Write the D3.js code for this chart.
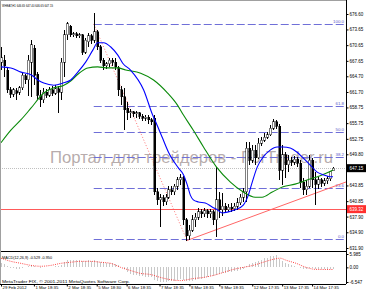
<!DOCTYPE html>
<html>
<head>
<meta charset="utf-8">
<script src="https://cdn.jsdelivr.net/npm/d3@7"></script>
<style>
  body { margin: 0; background: white; }
  svg { display: block; }
  text { font-family: "Liberation Sans", Arial, sans-serif; }
</style>
</head>
<body>
<div id="container"></div>
<script>
let w = 366;
let h = 293;

// hourly wheat bars: [open, high, low, close]
let candles = [
  [667.4,670.3,665.9,668.2],[667.8,668.8,664.6,666.7],[665.9,666.3,661.5,662.1],[662.1,662.7,660.6,661.3],
  [661.3,662.5,660.8,662.1],[661.9,662.5,660.2,661.5],[661.7,662.9,661.1,662.5],[662.5,665.5,662.1,664.9],
  [664.8,665.1,663.2,664.0],[664.0,668.8,660.9,667.8],[667.4,671.6,660.8,670.7],[670.1,670.7,663.0,664.9],
  [665.1,665.5,660.2,661.1],[661.1,662.1,658.8,660.2],[660.2,662.5,659.6,661.7],[661.7,662.3,660.6,661.1],
  [661.1,662.7,660.8,662.1],[662.1,662.9,660.9,661.5],[661.5,663.0,661.1,662.3],[662.3,662.9,657.7,661.7],
  [661.7,668.2,660.2,667.4],[667.4,673.5,664.6,672.6],[672.6,675.1,671.6,674.7],[674.3,674.5,672.2,672.6],
  [672.6,673.2,672.2,672.8],[672.8,673.2,672.0,672.4],[672.4,673.0,672.0,672.6],[672.6,672.8,668.8,669.3],
  [669.3,672.0,669.0,671.6],[671.3,673.0,670.3,672.4],[672.4,672.8,670.9,671.6],[671.6,676.8,671.1,673.2],
  [673.2,673.5,669.7,670.3],[670.3,670.7,667.2,667.8],[667.8,668.2,665.9,666.7],[666.7,667.4,666.1,667.1],
  [667.1,668.2,666.5,667.8],[667.8,668.2,666.7,667.4],[667.4,668.2,665.9,666.5],[666.3,666.7,660.9,662.1],
  [662.1,662.9,659.2,660.8],[660.8,662.5,654.4,658.3],[658.6,659.8,656.4,657.7],[657.7,658.5,656.7,657.9],
  [657.9,658.1,656.9,657.5],[657.5,658.1,656.7,657.7],[657.7,657.9,656.5,657.1],[657.1,657.5,656.2,656.7],
  [656.7,657.3,656.2,656.9],[656.9,657.3,655.6,656.4],[656.4,656.7,655.4,656.0],[656.7,657.3,642.0,642.6],
  [642.6,643.4,640.1,641.1],[641.1,642.2,635.9,641.5],[641.5,642.0,639.9,640.7],[640.7,642.2,640.1,641.6],
  [641.6,643.7,641.3,643.0],[643.0,643.7,642.0,642.6],[642.6,644.1,642.0,643.7],[643.7,645.5,643.0,644.9],
  [644.9,646.0,643.9,645.3],[645.3,645.7,636.3,637.3],[637.3,637.6,633.2,634.2],[634.2,636.3,633.4,635.3],
  [635.3,638.2,635.0,637.3],[637.3,638.6,635.9,637.8],[637.8,639.6,637.3,638.8],[638.8,639.4,637.6,638.4],
  [638.4,639.6,637.8,639.0],[639.0,639.4,637.6,638.4],[638.4,639.4,637.6,638.8],[638.8,639.2,636.3,637.3],
  [637.3,647.4,634.0,641.1],[641.1,642.6,637.6,639.2],[639.2,642.4,638.0,639.9],[639.9,640.5,638.6,639.2],
  [639.2,640.3,638.8,639.7],[639.7,640.5,638.8,639.4],[639.4,640.5,639.0,639.9],[639.9,641.5,639.2,640.5],
  [640.5,642.2,640.1,641.6],[641.6,643.4,640.7,642.6],[642.6,652.2,640.7,651.0],[651.0,652.2,647.8,648.7],
  [648.7,651.6,648.1,650.6],[650.6,651.6,647.8,649.1],[649.1,652.9,648.9,651.9],[651.9,653.1,651.4,652.5],
  [652.5,653.9,652.2,653.1],[653.1,654.1,652.7,653.5],[653.5,655.4,653.3,654.8],[654.8,656.5,654.4,656.0],
  [656.0,656.4,654.6,655.2],[655.2,655.6,644.9,646.8],[646.8,651.6,643.9,649.7],[649.7,650.2,645.3,647.8],
  [647.8,649.7,646.4,648.7],[648.7,649.3,647.6,648.3],[648.3,649.5,647.8,648.9],[648.9,649.3,647.4,648.1],
  [648.1,648.7,643.4,644.5],[644.5,645.3,642.0,643.0],[643.0,644.9,642.0,643.7],[643.7,649.7,643.4,648.7],
  [648.7,649.1,643.4,644.9],[644.9,646.4,640.1,644.1],[644.1,645.5,643.2,644.9],[644.9,645.3,643.6,644.3],
  [644.3,645.3,643.8,644.7],[644.7,645.7,644.1,645.1],[645.1,646.6,644.7,646.6],[646.65,647.40,646.65,647.15]
];

// moving averages, read at some bar positions
let blueIdx = [0,3.3,6.7,10,12.3,14.3,17.7,20.7,23.3,25.7,28.3,30.7,32.3,34.3,36.7,39,40.7,43.3,47.7,50.7,51.7,54,56,59.3,61,62.3,63.3,64.3,66,68.3,70.7,72.3,74,76,78.3,81,82.7,84,85.7,87.7,90,92.3,94.3,96.7,99,101,103.3,105.7,107.7,110,111];
let blueVal = [666.5,666.3,665.5,665.0,664.0,663.4,663.0,663.4,664.0,665.5,667.4,669.7,671.1,671.1,670.3,668.8,667.2,665.9,662.1,657.3,656.0,652.9,650.2,647.2,645.9,643.9,642.0,641.1,640.7,640.5,639.7,639.2,638.6,638.8,639.2,640.1,642.0,644.5,647.4,649.3,650.6,651.2,651.2,651.0,650.2,649.1,647.8,646.4,645.9,645.5,645.5];
let greenIdx = [0,3.3,6.7,10,14.3,17.7,20.7,23.3,25.7,29,32.3,35.7,39,41.7,46.7,51,55.7,59,61,64.3,67.7,72,76.7,81,85,87.3,90.7,94.3,98.3,102.3,106.7,111];
let greenVal = [652.0,654.4,656.4,658.6,661.5,662.5,662.9,663.8,665.1,666.3,666.5,666.3,666.3,665.9,665.3,664.0,661.5,659.2,657.3,654.4,651.2,647.4,644.5,642.6,641.6,641.6,642.6,643.6,644.1,644.9,645.7,646.8];

// MACD(12,26,9): main per bar, signal read at some bar positions
let macdMain = [
  2.0,1.5,0.5,-0.3,-0.5,-0.7,-0.6,-0.2,0.0,0.5,
  1.2,0.8,0.2,-0.2,0.0,0.1,0.3,0.3,0.5,0.5,
  1.2,2.3,3.2,3.4,3.5,3.4,3.3,3.0,3.0,3.1,
  3.0,3.2,2.9,2.5,2.2,2.0,1.9,1.8,1.6,0.9,
  0.2,-0.8,-2.0,-2.8,-3.2,-3.5,-3.8,-4.0,-4.1,-4.3,
  -4.4,-5.5,-6.3,-6.5,-6.5,-6.4,-6.3,-6.1,-5.9,-5.6,
  -5.3,-5.8,-6.2,-6.3,-6.0,-5.7,-5.3,-5.0,-4.6,-4.3,
  -4.0,-3.9,-3.3,-3.0,-2.7,-2.5,-2.2,-2.0,-1.7,-1.4,
  -1.0,-0.6,0.5,1.3,2.0,2.5,3.0,3.5,4.0,4.4,
  4.9,5.3,5.5,3.8,2.8,2.0,1.4,0.9,0.5,0.2,
  -0.4,-0.6,-0.7,-0.3,-0.5,-0.7,-0.7,-0.8,-0.8,-0.7,
  -0.6,-0.529
];
let sigIdx = [0,3.3,6.7,10,13.3,16.7,20,23.3,26.7,30,33.3,36.7,40,43.3,46.7,50,53.3,56.7,60,64.3,67.7,71,74.3,77.7,81,84.3,87.7,91,93.3,95.3,98.7,102,105.3,108.7,111];
let sigVal = [4.1,2.7,1.8,0.9,0.5,0.9,1.8,2.3,2.7,2.7,2.3,1.8,0,-1.4,-2.7,-3.2,-4.5,-5.5,-5.9,-5.0,-4.5,-3.6,-2.3,-0.9,0,0.9,2.3,3.6,4.1,3.2,1.8,0,-0.9,-0.95,-0.95];

// axis labels
let priceTicks = [676.60,673.65,670.65,667.65,664.70,661.70,658.75,655.75,652.75,649.80,643.85,640.85,637.90,634.90,631.90];
let macdTicks = [5.985, 0, -6.547];
let macdTickLabels = ["5.985","0.00","-6.547"];
let timeIdx = [0,11,22,32,42,53,63,73,84,94,104];
let timeLabels = ["29 Feb 2012","1 Mar 18:35","2 Mar 18:35","5 Mar 18:30","6 Mar 18:35","7 Mar 18:35",
                  "8 Mar 18:35","9 Mar 18:35","12 Mar 17:35","13 Mar 17:35","14 Mar 17:35"];

// objects on the chart
let fibLevels = [0, 23.6, 38.2, 50, 61.8, 100];
let fibLabels = ["0.0","23.6","38.2","50.0","61.8","100.0"];
let fibFrom = [31, 674.7];   // bar, price (100 %)
let fibTo = [62, 633.6];     // bar, price (0 %)
let trendFrom = [62, 633.3];
let trendTo = [111, 643.6];
let redLevel = 639.32;
let bid = 647.15;

let axisX = 346;
let mainBottom = 251;
let macdBottom = 284;

let viz = d3.select("#container")
  .append("svg")
    .attr("width", w)
    .attr("height", h)
    .style("background-color", "white");

let xScale = d3.scaleLinear().domain([0, 111]).range([1, 333]);
let yScale = d3.scaleLinear().domain([631.90, 676.60]).range([248, 14]);
let macdScale = d3.scaleLinear().domain([-6.547, 5.985]).range([282, 254]);
let rightIdx = xScale.invert(axisX);

viz.append("clipPath").attr("id", "mainclip")
  .append("rect").attr("x", 0).attr("y", 0).attr("width", axisX).attr("height", mainBottom);

let main = viz.append("g").attr("clip-path", "url(#mainclip)");

// watermark
main.append("text")
  .attr("x", 50).attr("y", 163)
  .attr("font-size", 16)
  .attr("textLength", 283)
  .attr("lengthAdjust", "spacingAndGlyphs")
  .attr("fill", "#a39696")
  .attr("fill-opacity", 0.8)
  .text("Портал для трейдеров - ForTrader.ru");

// bid line
main.append("line")
  .attr("x1", 0).attr("x2", axisX)
  .attr("y1", Math.round(yScale(bid)) + 0.5).attr("y2", Math.round(yScale(bid)) + 0.5)
  .attr("stroke", "#c0c0c0").attr("stroke-dasharray", "1,1");

// horizontal red level
main.append("line")
  .attr("x1", 0).attr("x2", axisX)
  .attr("y1", Math.round(yScale(redLevel)) + 0.5).attr("y2", Math.round(yScale(redLevel)) + 0.5)
  .attr("stroke", "#ff5a5a");

// fibo levels
let fibPrice = function(l){ return fibTo[1] + (fibFrom[1] - fibTo[1]) * l / 100; };
let fib = main.selectAll(".fib").data(fibLevels).enter().append("g").classed("fib", true);
fib.append("line")
  .attr("x1", xScale(fibFrom[0])).attr("x2", axisX)
  .attr("y1", function(d){ return Math.round(yScale(fibPrice(d))) + 0.5; })
  .attr("y2", function(d){ return Math.round(yScale(fibPrice(d))) + 0.5; })
  .attr("stroke", "#6f6fd8").attr("stroke-dasharray", "8,3");
fib.append("text")
  .attr("x", axisX - 2)
  .attr("y", function(d){ return Math.round(yScale(fibPrice(d))) - 1; })
  .attr("text-anchor", "end")
  .attr("font-size", 4.4)
  .attr("fill", "#5c5cc8")
  .text(function(d, i){ return fibLabels[i]; });

// fibo base line (dotted red)
main.append("line")
  .attr("x1", xScale(fibFrom[0])).attr("y1", yScale(fibFrom[1]))
  .attr("x2", xScale(fibTo[0])).attr("y2", yScale(fibTo[1]))
  .attr("stroke", "#ff5050").attr("stroke-width", 0.8).attr("stroke-dasharray", "1,2");

// trend line extended to the right edge
let slope = (trendTo[1] - trendFrom[1]) / (trendTo[0] - trendFrom[0]);
main.append("line")
  .attr("x1", xScale(trendFrom[0])).attr("y1", yScale(trendFrom[1]))
  .attr("x2", axisX).attr("y2", yScale(trendFrom[1] + slope * (rightIdx - trendFrom[0])))
  .attr("stroke", "#ff6666").attr("stroke-width", 1);

// candles
let bars = main.selectAll(".bar").data(candles).enter().append("g").classed("bar", true)
  .attr("shape-rendering", "crispEdges");
bars.append("line")
  .attr("x1", function(d, i){ return Math.round(xScale(i)) + 0.5; })
  .attr("x2", function(d, i){ return Math.round(xScale(i)) + 0.5; })
  .attr("y1", function(d){ return yScale(d[1]); })
  .attr("y2", function(d){ return yScale(d[2]); })
  .attr("stroke", "#000");
bars.append("rect")
  .attr("x", function(d, i){ return Math.round(xScale(i)) - 0.5; })
  .attr("width", 2)
  .attr("y", function(d){ return yScale(Math.max(d[0], d[3])); })
  .attr("height", function(d){ return Math.max(1, Math.abs(yScale(d[0]) - yScale(d[3]))); })
  .attr("fill", function(d){ return d[3] >= d[0] ? "#fff" : "#000"; })
  .attr("stroke", "#000").attr("stroke-width", 0.5);

// moving averages
let maLine = d3.line()
  .x(function(d){ return xScale(d[0]); })
  .y(function(d){ return yScale(d[1]); })
  .curve(d3.curveMonotoneX);
main.append("path")
  .datum(d3.zip(greenIdx, greenVal))
  .attr("d", maLine)
  .attr("fill", "none").attr("stroke", "#0a8a0a").attr("stroke-width", 1.1);
main.append("path")
  .datum(d3.zip(blueIdx, blueVal))
  .attr("d", maLine)
  .attr("fill", "none").attr("stroke", "#0000ff").attr("stroke-width", 1.1);

// title
viz.append("text")
  .attr("x", 2).attr("y", 7)
  .attr("font-size", 4.2)
  .attr("textLength", 51).attr("lengthAdjust", "spacingAndGlyphs")
  .text("WHEAT,H1 646.65 647.40 646.65 647.15");

// MACD pane
let macd = viz.append("g");
macd.selectAll(".hist").data(macdMain).enter().append("line")
  .classed("hist", true)
  .attr("shape-rendering", "crispEdges")
  .attr("x1", function(d, i){ return Math.round(xScale(i)) + 0.5; })
  .attr("x2", function(d, i){ return Math.round(xScale(i)) + 0.5; })
  .attr("y1", macdScale(0))
  .attr("y2", function(d){ return macdScale(d); })
  .attr("stroke", "#c8c8c8");
macd.append("path")
  .datum(d3.zip(sigIdx, sigVal))
  .attr("d", d3.line()
    .x(function(d){ return xScale(d[0]); })
    .y(function(d){ return macdScale(d[1]); })
    .curve(d3.curveMonotoneX))
  .attr("fill", "none").attr("stroke", "#ff3030").attr("stroke-width", 0.9)
  .attr("stroke-dasharray", "1,1.2");
macd.append("text")
  .attr("x", 2).attr("y", 258.5)
  .attr("font-size", 4.2)
  .attr("textLength", 50).attr("lengthAdjust", "spacingAndGlyphs")
  .text("MACD(12,26,9) -0.529 -0.950");
macd.append("text")
  .attr("x", 2).attr("y", 282.5)
  .attr("font-size", 4.4)
  .attr("textLength", 128).attr("lengthAdjust", "spacingAndGlyphs")
  .text("MetaTrader FIX, © 2001-2011 MetaQuotes Software Corp.");

// frame lines
let frame = viz.append("g").attr("shape-rendering", "crispEdges").attr("stroke", "#000");
frame.append("line").attr("x1", axisX + 0.5).attr("x2", axisX + 0.5).attr("y1", 0).attr("y2", macdBottom);
frame.append("line").attr("x1", 0).attr("x2", axisX).attr("y1", mainBottom + 0.5).attr("y2", mainBottom + 0.5);
frame.append("line").attr("x1", 0).attr("x2", axisX).attr("y1", macdBottom + 0.5).attr("y2", macdBottom + 0.5);
frame.append("line").attr("x1", 0.5).attr("x2", 0.5).attr("y1", 0).attr("y2", macdBottom).attr("stroke", "#a0a0a0");
frame.append("line").attr("x1", 0).attr("x2", axisX).attr("y1", 0.5).attr("y2", 0.5).attr("stroke", "#a0a0a0");

// price axis
let yAxis = d3.axisRight(yScale)
  .tickValues(priceTicks)
  .tickSize(2).tickSizeOuter(0).tickPadding(1)
  .tickFormat(d3.format(".2f"));
let yAxisG = viz.append("g").attr("transform", "translate(" + (axisX + 0.5) + ",0)").call(yAxis);
yAxisG.select(".domain").remove();
yAxisG.selectAll("text").attr("font-size", 4.5).attr("font-family", "Liberation Sans, Arial, sans-serif");

let mAxis = d3.axisRight(macdScale)
  .tickValues(macdTicks)
  .tickSize(2).tickSizeOuter(0).tickPadding(1)
  .tickFormat(function(d, i){ return macdTickLabels[i]; });
let mAxisG = viz.append("g").attr("transform", "translate(" + (axisX + 0.5) + ",0)").call(mAxis);
mAxisG.select(".domain").remove();
mAxisG.selectAll("text").attr("font-size", 4.5).attr("font-family", "Liberation Sans, Arial, sans-serif");

// price boxes on the axis
function priceBox(p, fill){
  let yy = yScale(p);
  viz.append("rect").attr("x", axisX + 1).attr("y", yy - 4).attr("width", w - axisX - 1).attr("height", 8).attr("fill", fill);
  viz.append("text").attr("x", axisX + 3.5).attr("y", yy + 1.6)
    .attr("font-size", 4.5).attr("fill", "#fff").text(d3.format(".2f")(p));
}
priceBox(bid, "#000");
priceBox(redLevel, "#ff3030");

// time axis
let xAxis = d3.axisBottom(xScale)
  .tickValues(timeIdx)
  .tickSize(2).tickSizeOuter(0).tickPadding(1)
  .tickFormat(function(d, i){ return timeLabels[i]; });
let xAxisG = viz.append("g").attr("transform", "translate(0," + (macdBottom + 0.5) + ")").call(xAxis);
xAxisG.select(".domain").remove();
xAxisG.selectAll("text")
  .attr("text-anchor", "start").attr("dx", 1).attr("dy", "0.4em")
  .attr("font-size", 4.3).attr("font-family", "Liberation Sans, Arial, sans-serif");
</script>
</body>
</html>
